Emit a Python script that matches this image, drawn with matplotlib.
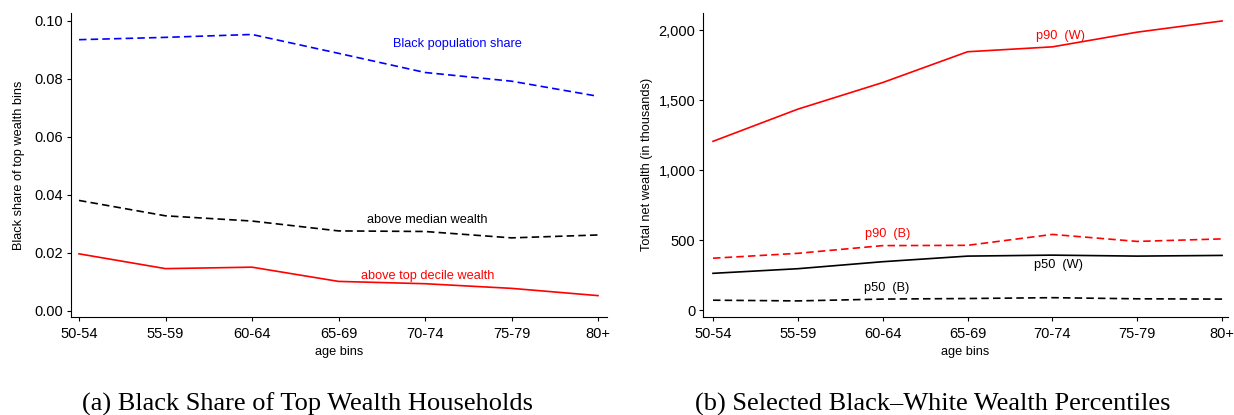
import matplotlib
matplotlib.use("Agg")
import matplotlib.pyplot as plt
import numpy as np
from matplotlib.ticker import FuncFormatter

age_bins = ["50-54", "55-59", "60-64", "65-69", "70-74", "75-79", "80+"]

black_pop_share = [0.0935, 0.0943, 0.0953, 0.0888, 0.0822, 0.0792, 0.0740]
above_median = [0.0381, 0.0328, 0.0310, 0.0276, 0.0274, 0.0252, 0.0262]
above_top_decile = [0.0197, 0.0146, 0.0151, 0.0102, 0.0094, 0.0078, 0.0053]

p90_w = [1205, 1435, 1625, 1845, 1880, 1985, 2065]
p90_b = [370, 405, 460, 462, 540, 490, 508]
p50_w = [262, 295, 345, 385, 392, 385, 390]
p50_b = [70, 65, 78, 82, 88, 80, 78]

left_yticks = [0.00, 0.02, 0.04, 0.06, 0.08, 0.10]
right_yticks = [0, 500, 1000, 1500, 2000]

plt.rcParams['font.family'] = ['Liberation Sans', 'DejaVu Sans']

W, H = 1234, 415
fig = plt.figure(figsize=(W / 100, H / 100), dpi=100)
ax1 = fig.add_axes([71 / W, (H - 317) / H, (607 - 71) / W, (317 - 12.7) / H])
ax2 = fig.add_axes([703 / W, (H - 317) / H, (1228 - 703) / W, (317 - 12.7) / H])

x = np.arange(len(age_bins))
lw = 1.2
dash = (0, (4.5, 2.5))
afs = 9.2

ax1.plot(x, black_pop_share, color='blue', lw=lw, linestyle=dash)
ax1.plot(x, above_median, color='black', lw=lw, linestyle=dash)
ax1.plot(x, above_top_decile, color='red', lw=lw)
ax1.text(4.38, 0.0900, "Black population share", color='blue', fontsize=afs, ha='center', va='bottom')
ax1.text(4.03, 0.0293, "above median wealth", color='black', fontsize=afs, ha='center', va='bottom')
ax1.text(4.03, 0.0100, "above top decile wealth", color='red', fontsize=afs, ha='center', va='bottom')
ax1.set_ylim(-0.00207, 0.1028)
ax1.set_xlim(-0.0925, 6.104)
ax1.set_yticks(left_yticks)
ax1.yaxis.set_major_formatter(FuncFormatter(lambda v, p: f"{v:.2f}"))
ax1.set_ylabel("Black share of top wealth bins", fontsize=9.2, labelpad=7)

ax2.plot(x, p90_w, color='red', lw=lw)
ax2.plot(x, p90_b, color='red', lw=lw, linestyle=dash)
ax2.plot(x, p50_w, color='black', lw=lw)
ax2.plot(x, p50_b, color='black', lw=lw, linestyle=dash)
ax2.text(4.09, 1915, "p90  (W)", color='red', fontsize=afs, ha='center', va='bottom')
ax2.text(2.06, 498, "p90  (B)", color='red', fontsize=afs, ha='center', va='bottom')
ax2.text(4.07, 280, "p50  (W)", color='black', fontsize=afs, ha='center', va='bottom')
ax2.text(2.05, 112, "p50  (B)", color='black', fontsize=afs, ha='center', va='bottom')
ax2.set_ylim(-50, 2124)
ax2.set_xlim(-0.118, 6.07)
ax2.set_yticks(right_yticks)
ax2.yaxis.set_major_formatter(FuncFormatter(lambda v, p: f"{int(v):,}"))
ax2.set_ylabel("Total net wealth (in thousands)", fontsize=9.2, labelpad=4)

for ax in (ax1, ax2):
    ax.set_xticks(x)
    ax.set_xticklabels(age_bins)
    ax.set_xlabel("age bins", fontsize=9.2, labelpad=3.5)
    for s in ('top', 'right'):
        ax.spines[s].set_visible(False)
    for s in ('left', 'bottom'):
        ax.spines[s].set_linewidth(0.8)
    ax.tick_params(axis='both', labelsize=10.5, direction='out', length=3, width=0.8, pad=2.5)
    ax.tick_params(axis='x', pad=4)
    ax.set_facecolor('white')

serif = ['Liberation Serif', 'DejaVu Serif']
fig.text(307 / W, 1 - 411 / H, "(a) Black Share of Top Wealth Households", family=serif, fontsize=19, ha='center', va='baseline')
fig.text(933 / W, 1 - 411 / H, "(b) Selected Black\u2013White Wealth Percentiles", family=serif, fontsize=19, ha='center', va='baseline')

fig.savefig("out.png", dpi=100, facecolor='white')
